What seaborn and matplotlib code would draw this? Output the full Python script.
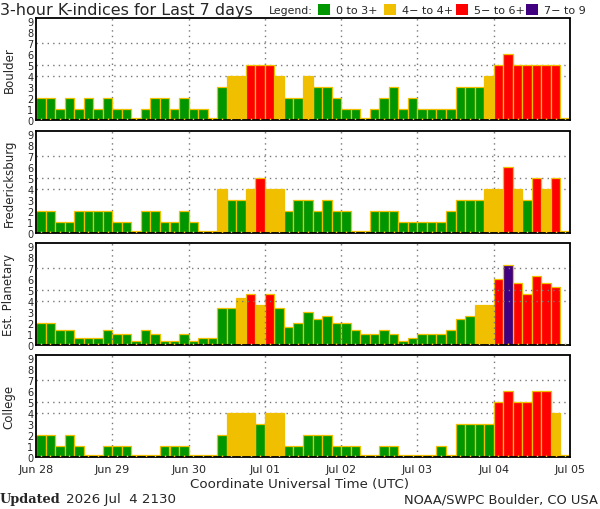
import numpy as np
import pandas as pd
import matplotlib
matplotlib.use("Agg")
import matplotlib.pyplot as plt
from matplotlib.patches import Rectangle
import seaborn as sns

# K-index values, 8 three-hour slots per day, Jun 28 .. Jul 04
days = ["Jun 28", "Jun 29", "Jun 30", "Jul 01", "Jul 02", "Jul 03", "Jul 04", "Jul 05"]

boulder = [2, 2, 1, 2, 1, 2, 1, 2,
           1, 1, 0, 1, 2, 2, 1, 2,
           1, 1, 0, 3, 4, 4, 5, 5,
           5, 4, 2, 2, 4, 3, 3, 2,
           1, 1, 0, 1, 2, 3, 1, 2,
           1, 1, 1, 1, 3, 3, 3, 4,
           5, 6, 5, 5, 5, 5, 5, 0]

fredericksburg = [2, 2, 1, 1, 2, 2, 2, 2,
                  1, 1, 0, 2, 2, 1, 1, 2,
                  1, 0, 0, 4, 3, 3, 4, 5,
                  4, 4, 2, 3, 3, 2, 3, 2,
                  2, 0, 0, 2, 2, 2, 1, 1,
                  1, 1, 1, 2, 3, 3, 3, 4,
                  4, 6, 4, 3, 5, 4, 5, 0]

est_planetary = [2, 2, 1.33, 1.33, 0.67, 0.67, 0.67, 1.33,
                 1, 1, 0.33, 1.33, 1, 0.33, 0.33, 1,
                 0.33, 0.67, 0.67, 3.33, 3.33, 4.33, 4.67, 3.67,
                 4.67, 3.33, 1.67, 2, 3, 2.33, 2.67, 2,
                 2, 1.33, 1, 1, 1.33, 1, 0.33, 0.67,
                 1, 1, 1, 1.33, 2.33, 2.67, 3.67, 3.67,
                 6, 7.33, 5.67, 4.67, 6.33, 5.67, 5.33, np.nan]

college = [2, 2, 1, 2, 1, 0, 0, 1,
           1, 1, 0, 0, 0, 1, 1, 1,
           0, 0, 0, 2, 4, 4, 4, 3,
           4, 4, 1, 1, 2, 2, 2, 1,
           1, 1, 0, 0, 1, 1, 0, 0,
           0, 0, 1, 0, 3, 3, 3, 3,
           5, 6, 5, 5, 6, 6, 4, 0]

stations = ["Boulder", "Fredericksburg", "Est. Planetary", "College"]
series = [boulder, fredericksburg, est_planetary, college]

levels = ["0 to 3+", "4- to 4+", "5- to 6+", "7- to 9"]
legend_labels = ["0 to 3+", "4\u2212 to 4+", "5\u2212 to 6+", "7\u2212 to 9"]
colors = {"0 to 3+": "#009600", "4- to 4+": "#F0C000",
          "5- to 6+": "#FF0000", "7- to 9": "#400080"}
EDGE = "#F0C000"

sns.set_style("white")
plt.rcParams["font.family"] = ["DejaVu Sans"]

fig = plt.figure(figsize=(6, 5.1), dpi=100)

W, H = 600, 510
left, width = 36 / W, 534 / W
tops = [19, 132, 244, 356]
ph = 102

slot = 1 / 8
for k, (name, vals) in enumerate(zip(stations, series)):
    vals = np.array(vals, dtype=float)
    t = np.arange(len(vals)) * slot + slot / 2
    df = pd.DataFrame({"t": t, "kp": vals})
    df["level"] = pd.cut(df["kp"], [-1, 3.5, 4.5, 6.5, 9.5], labels=levels)
    # zero readings are drawn as a thin sliver
    df["bar"] = df["kp"].where(df["kp"] > 0, 0.15)
    df = df.dropna(subset=["kp"])

    ax = fig.add_axes([left, 1 - (tops[k] + ph) / H, width, ph / H])
    # the planetary panel has its grid drawn over the bars
    gz = 3 if name == "Est. Planetary" else 1
    for d in range(1, 7):
        ax.axvline(d, color="#777777", ls=(0, (1, 3)), lw=1, zorder=gz)
    for g in [4, 5, 7]:
        ax.axhline(g, color="#777777", ls=(0, (1, 3)), lw=1, zorder=gz)

    sns.barplot(data=df, x="t", y="bar", hue="level", hue_order=levels,
                palette=colors, saturation=1, native_scale=True, width=1,
                dodge=False, edgecolor=EDGE, linewidth=0.9, errorbar=None,
                legend=False, ax=ax, zorder=2)
    ax.vlines(t, 0, 0.22, color=EDGE, lw=1, zorder=4)

    ax.set_xlim(0, 7)
    ax.set_ylim(0, 9.3)

    ax.set_yticks(range(10))
    ax.set_yticklabels([str(i) for i in range(10)], fontsize=7)
    ax.tick_params(axis="y", length=0, pad=2)
    ax.set_xticks(range(8))
    if k == 3:
        ax.set_xticklabels(days, fontsize=8)
        ax.tick_params(axis="x", length=0, pad=5)
    else:
        ax.set_xticklabels([])
        ax.tick_params(axis="x", length=0)
    ax.set_xlabel("")
    ax.set_ylabel("")
    for s in ax.spines.values():
        s.set_color("black")
        s.set_linewidth(1.3)
    ax.spines["right"].set_linestyle((0, (2, 1)))

    fig.text(9 / W, 1 - (tops[k] + ph / 2) / H, name, rotation=90,
             ha="center", va="center", fontsize=8.5)

# header
fig.text(0, 1 - 10 / H, "3-hour K-indices for Last 7 days", fontsize=11.5,
         ha="left", va="center")
fig.text(269 / W, 1 - 11 / H, "Legend:", fontsize=7.8, ha="left", va="center")
sq_x = [318, 384, 456, 526]
for lev, lab, x0 in zip(levels, legend_labels, sq_x):
    fig.patches.append(Rectangle((x0 / W, 1 - 16 / H), 12 / W, 11 / H,
                                 transform=fig.transFigure,
                                 facecolor=colors[lev], edgecolor="none"))
    fig.text((x0 + 18) / W, 1 - 11 / H, lab, fontsize=8, ha="left", va="center")

# footer
fig.text(300 / W, 1 - 485 / H, "Coordinate Universal Time (UTC)", fontsize=9.6,
         ha="center", va="center")
fig.text(0, 1 - 500 / H, "Updated", fontsize=9.3, fontweight="bold",
         family="DejaVu Serif", ha="left", va="center")
fig.text(66 / W, 1 - 500 / H, "2026 Jul  4 2130", fontsize=9.6, ha="left", va="center")
fig.text(598 / W, 1 - 500 / H, "NOAA/SWPC Boulder, CO USA", fontsize=9.4,
         ha="right", va="center")

fig.savefig("out.png", dpi=100)
